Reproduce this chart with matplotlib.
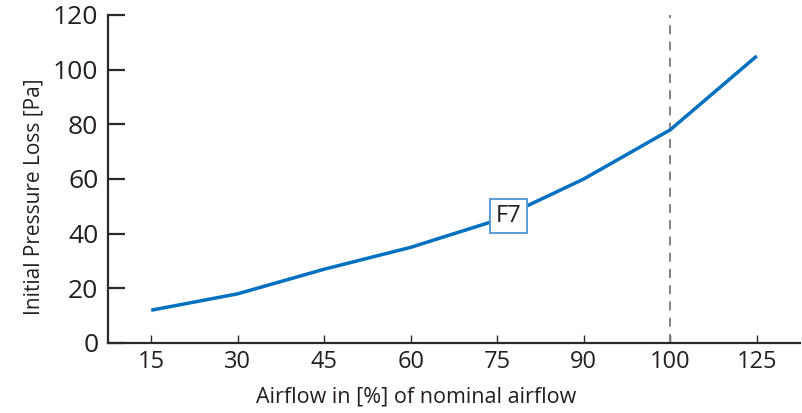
import matplotlib
matplotlib.use("Agg")
import matplotlib.pyplot as plt

categories = ["15", "30", "45", "60", "75", "90", "100", "125"]
pressure_loss = [12, 18, 27, 35, 45, 60, 78, 105]
nominal_label = "100"
curve_label = "F7"
y_ticks = [0, 20, 40, 60, 80, 100, 120]

plt.rcParams['font.family'] = ['Open Sans', 'DejaVu Sans']
text_color = '#231F20'

fig = plt.figure(figsize=(8.03, 4.13), dpi=100)
ax = fig.add_axes([108/803, 1-343/413, (800-108)/803, (343-15)/413])

x = list(range(len(categories)))
ax.plot(x, pressure_loss, color='#0070C0', lw=2.5, solid_capstyle='butt', zorder=3)

ni = categories.index(nominal_label)
ax.axvline(ni, color='#7a7a7a', lw=1.3, ls=(0, (5, 4)), zorder=2)

ax.text(4.13, 46.5, curve_label, ha='center', va='center', fontsize=17, color=text_color,
        zorder=4, bbox=dict(boxstyle='square,pad=0.22', fc='white', ec='#5B9BD5', lw=1.4))

ax.set_xlim(-0.5, 7.5)
ax.set_ylim(0, 120)
ax.set_xticks(x)
ax.set_xticklabels(categories)
ax.set_yticks(y_ticks)

for s in ['top', 'right']:
    ax.spines[s].set_visible(False)
for s in ['left', 'bottom']:
    ax.spines[s].set_color('#2a2a2a')
    ax.spines[s].set_linewidth(1.6)

ax.tick_params(axis='y', direction='in', length=12, width=1.6, color='#2a2a2a',
               labelsize=19, labelcolor=text_color, pad=7)
ax.tick_params(axis='x', direction='in', length=6, width=1.0, color='#2a2a2a',
               labelsize=17, labelcolor=text_color, pad=5)

ax.set_ylabel("Initial Pressure Loss [Pa]", fontsize=15, color=text_color, labelpad=6)
ax.set_xlabel("Airflow in [%] of nominal airflow", fontsize=15.5, color=text_color, labelpad=9)
ax.xaxis.label.set_x(0.445)
ax.yaxis.label.set_y(0.445)

fig.savefig("out.png", dpi=100)
